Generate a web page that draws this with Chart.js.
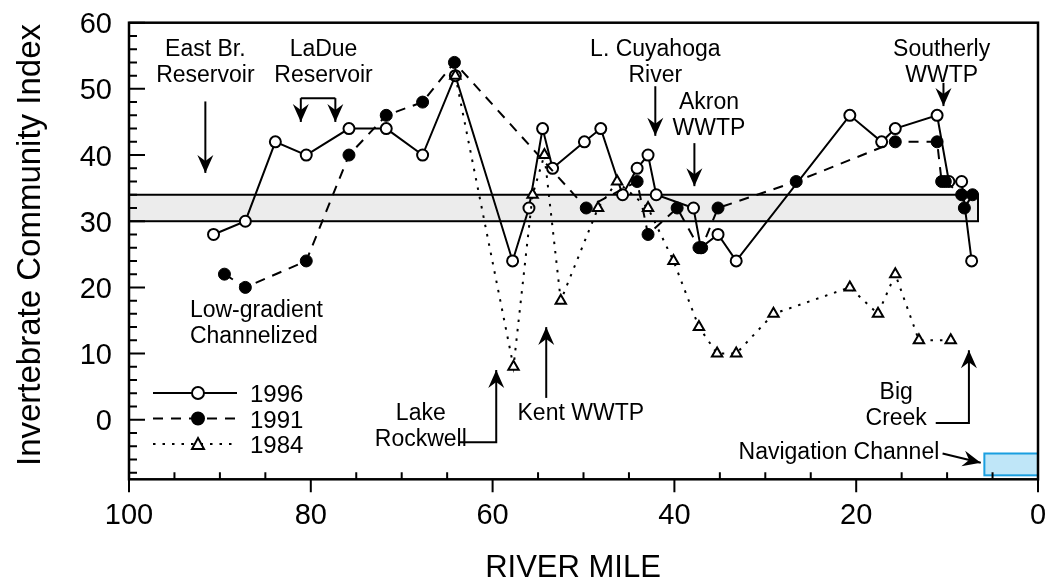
<!DOCTYPE html>
<html>
<head>
<meta charset="utf-8">
<script src="https://cdn.jsdelivr.net/npm/chart.js@4.4.0/dist/chart.umd.min.js"></script>
<style>
  html, body { margin: 0; padding: 0; background: #fff; }
  #wrap { width: 1046px; height: 581px; }
</style>
</head>
<body>
<div id="wrap"><canvas id="iciChart" width="1046" height="581"></canvas></div>
<script>
// Invertebrate Community Index along the river, three survey years
const miles1996 = [90.7, 87.2, 83.9, 80.5, 75.8, 71.7, 67.7, 64.1, 57.8, 56.0, 54.5, 53.4, 49.9, 48.1,
  45.7, 44.1, 42.9, 42.0, 37.9, 37.1, 35.2, 33.2, 20.7, 17.2, 15.7, 11.1, 9.8, 8.4, 7.3];
const ici1996 = [28, 30, 42, 40, 44, 44, 40, 52, 24, 32, 44, 38, 42, 44,
  34, 38, 40, 34, 32, 26, 28, 24, 46, 42, 44, 46, 36, 36, 24];

const miles1991 = [89.5, 87.2, 80.5, 75.8, 71.7, 67.7, 64.2, 49.7, 44.1, 42.9, 39.7, 37.3, 37.0,
  35.2, 26.6, 15.7, 11.1, 10.6, 10.2, 8.4, 8.1, 7.2];
const ici1991 = [22, 20, 24, 40, 46, 48, 54, 32, 36, 28, 32, 26, 26,
  32, 36, 42, 42, 36, 36, 34, 32, 34];

const miles1984 = [64.1, 57.7, 55.6, 54.3, 52.5, 48.4, 46.3, 42.9, 40.1, 37.3, 35.3, 33.2,
  29.1, 20.7, 17.6, 15.7, 13.1, 9.6];
const ici1984 = [52, 8, 34, 40, 18, 32, 36, 32, 24, 14, 10, 10,
  16, 20, 16, 22, 12, 12];

const xTicks = [100, 80, 60, 40, 20, 0];
const yTicks = [0, 10, 20, 30, 40, 50, 60];
const refBand = [30, 34];       // ICI criterion band
const bandEndMile = 6.6;
const navChannel = { from: 5.9, to: 0, lo: -8.4, hi: -5.1 };

const FONT = '"Liberation Sans", Arial, sans-serif';

const pairs = (xs, ys) => xs.map((m, i) => ({ x: m, y: ys[i] }));

function arrowHead(ctx, x, y, ang, len = 18, half = 8, notch = 6) {
  ctx.save();
  ctx.translate(x, y);
  ctx.rotate(ang);
  ctx.beginPath();
  ctx.moveTo(0, 0);
  ctx.lineTo(-len, -half);
  ctx.lineTo(-len + notch, 0);
  ctx.lineTo(-len, half);
  ctx.closePath();
  ctx.fill();
  ctx.restore();
}

// polyline ending in an arrow head
function arrow(ctx, pts) {
  ctx.beginPath();
  ctx.moveTo(pts[0][0], pts[0][1]);
  for (let i = 1; i < pts.length; i++) ctx.lineTo(pts[i][0], pts[i][1]);
  ctx.stroke();
  const a = pts[pts.length - 2], b = pts[pts.length - 1];
  arrowHead(ctx, b[0], b[1], Math.atan2(b[1] - a[1], b[0] - a[0]));
}

const riverPlugin = {
  id: 'riverPlugin',
  beforeDatasetsDraw(chart) {
    const { ctx, scales: { x, y } } = chart;
    ctx.save();
    // criterion band
    const bx0 = x.getPixelForValue(100), bx1 = x.getPixelForValue(bandEndMile);
    const by0 = y.getPixelForValue(refBand[1]), by1 = y.getPixelForValue(refBand[0]);
    ctx.fillStyle = '#ececec';
    ctx.fillRect(bx0, by0, bx1 - bx0, by1 - by0);
    ctx.strokeStyle = '#000';
    ctx.lineWidth = 2;
    ctx.strokeRect(bx0, by0, bx1 - bx0, by1 - by0);
    // navigation channel
    const nx0 = x.getPixelForValue(navChannel.from), nx1 = x.getPixelForValue(navChannel.to);
    const ny0 = y.getPixelForValue(navChannel.hi), ny1 = y.getPixelForValue(navChannel.lo);
    ctx.fillStyle = '#bfe6f8';
    ctx.fillRect(nx0, ny0, nx1 - nx0, ny1 - ny0);
    ctx.strokeStyle = '#1a9fe0';
    ctx.strokeRect(nx0, ny0, nx1 - nx0, ny1 - ny0);
    ctx.restore();
  },
  afterDraw(chart) {
    const { ctx, chartArea: ca, scales: { x, y } } = chart;
    const X = m => x.getPixelForValue(m), Y = v => y.getPixelForValue(v);
    ctx.save();
    ctx.strokeStyle = '#000';
    ctx.fillStyle = '#000';

    // frame
    ctx.lineWidth = 2.5;
    ctx.strokeRect(ca.left, ca.top, ca.right - ca.left, ca.bottom - ca.top);

    // ticks
    ctx.lineWidth = 2;
    ctx.beginPath();
    for (let v = -8; v <= 60; v += 2) {
      const len = v % 10 === 0 ? 16 : 8;
      ctx.moveTo(ca.left, Y(v));
      ctx.lineTo(ca.left + len, Y(v));
    }
    for (let m = 0; m <= 100; m += 5) {
      if (m % 20 === 0) {
        ctx.moveTo(X(m), ca.bottom);
        ctx.lineTo(X(m), ca.bottom + 13);
      } else {
        ctx.moveTo(X(m), ca.bottom);
        ctx.lineTo(X(m), ca.bottom - 7);
      }
    }
    ctx.stroke();

    // tick labels
    ctx.font = '29px ' + FONT;
    ctx.textAlign = 'right';
    ctx.textBaseline = 'alphabetic';
    yTicks.forEach(v => ctx.fillText(String(v), ca.left - 17, Y(v) + 10.5));
    ctx.textAlign = 'center';
    xTicks.forEach(m => ctx.fillText(String(m), X(m), ca.bottom + 45));

    // axis titles
    ctx.font = '31px ' + FONT;
    ctx.fillText('RIVER MILE', 573, 577);
    ctx.save();
    ctx.translate(40, 245);
    ctx.rotate(-Math.PI / 2);
    ctx.font = '33px ' + FONT;
    ctx.fillText('Invertebrate Community Index', 0, 0);
    ctx.restore();

    // site labels
    ctx.font = '23px ' + FONT;
    const label = (m, v, s, align = 'center') => {
      ctx.textAlign = align;
      ctx.fillText(s, X(m), Y(v));
    };
    ctx.lineWidth = 2;

    label(91.6, 55.0, 'East Br.');
    label(91.6, 51.1, 'Reservoir');
    arrow(ctx, [[X(91.6), Y(48.1)], [X(91.6), Y(37.3)]]);

    label(78.6, 55.0, 'LaDue');
    label(78.6, 51.1, 'Reservoir');
    ctx.beginPath();
    ctx.moveTo(X(81.1), Y(48.6));
    ctx.lineTo(X(77.3), Y(48.6));
    ctx.stroke();
    arrow(ctx, [[X(81.1), Y(48.6)], [X(81.1), Y(45.0)]]);
    arrow(ctx, [[X(77.3), Y(48.6)], [X(77.3), Y(45.0)]]);

    label(42.1, 55.0, 'L. Cuyahoga');
    label(42.1, 51.1, 'River');
    arrow(ctx, [[X(42.1), Y(50.4)], [X(42.1), Y(42.9)]]);

    label(36.2, 47.0, 'Akron');
    label(36.2, 43.1, 'WWTP');
    arrow(ctx, [[X(37.8), Y(41.8)], [X(37.8), Y(35.3)]]);

    label(10.6, 55.0, 'Southerly');
    label(10.6, 51.1, 'WWTP');
    arrow(ctx, [[X(10.4), Y(50.9)], [X(10.4), Y(47.4)]]);

    label(93.3, 15.5, 'Low-gradient', 'left');
    label(93.3, 11.6, 'Channelized', 'left');

    label(67.9, 0.0, 'Lake');
    label(67.9, -4.0, 'Rockwell');
    arrow(ctx, [[X(63.6), Y(-3.4)], [X(59.6), Y(-3.4)], [X(59.6), Y(7.5)]]);

    label(50.3, -0.1, 'Kent WWTP');
    arrow(ctx, [[X(54.1), Y(3.3)], [X(54.1), Y(14.0)]]);

    label(15.6, 3.1, 'Big');
    label(15.6, -0.75, 'Creek');
    arrow(ctx, [[X(11.25), Y(-0.5)], [X(7.6), Y(-0.5)], [X(7.6), Y(10.5)]]);

    label(21.9, -6.0, 'Navigation Channel');
    arrow(ctx, [[X(10.5), Y(-5.1)], [X(6.3), Y(-6.5)]]);

    // legend
    const rows = [
      { text: '1996', dash: [], style: 'open' },
      { text: '1991', dash: [10, 8], style: 'filled' },
      { text: '1984', dash: [2.5, 7], style: 'tri' }
    ];
    ctx.font = '24px ' + FONT;
    ctx.textAlign = 'left';
    rows.forEach((r, i) => {
      const ly = 393 + i * 25.5;
      ctx.setLineDash(r.dash);
      ctx.lineWidth = 2;
      ctx.beginPath();
      ctx.moveTo(153, ly);
      ctx.lineTo(237, ly);
      ctx.stroke();
      ctx.setLineDash([]);
      ctx.beginPath();
      if (r.style === 'tri') {
        ctx.moveTo(198, ly - 6);
        ctx.lineTo(204, ly + 5);
        ctx.lineTo(192, ly + 5);
        ctx.closePath();
      } else {
        ctx.arc(198, ly, 6, 0, Math.PI * 2);
      }
      ctx.fillStyle = r.style === 'filled' ? '#000' : '#fff';
      ctx.fill();
      ctx.stroke();
      ctx.fillStyle = '#000';
      ctx.fillText(r.text, 250, ly + 9);
    });
    ctx.restore();
  }
};

new Chart(document.getElementById('iciChart'), {
  type: 'line',
  data: {
    datasets: [
      {
        label: '1984',
        data: pairs(miles1984, ici1984),
        borderColor: '#000',
        borderWidth: 2,
        borderDash: [2.5, 7],
        pointStyle: 'triangle',
        pointRadius: 6,
        pointBorderWidth: 2,
        pointBackgroundColor: '#fff',
        pointBorderColor: '#000',
        order: 0
      },
      {
        label: '1991',
        data: pairs(miles1991, ici1991),
        borderColor: '#000',
        borderWidth: 2,
        borderDash: [10, 8],
        pointStyle: 'circle',
        pointRadius: 6,
        pointBorderWidth: 1,
        pointBackgroundColor: '#000',
        pointBorderColor: '#000',
        order: 1
      },
      {
        label: '1996',
        data: pairs(miles1996, ici1996),
        borderColor: '#000',
        borderWidth: 2,
        pointStyle: 'circle',
        pointRadius: 5.5,
        pointBorderWidth: 2,
        pointBackgroundColor: '#fff',
        pointBorderColor: '#000',
        order: 2
      }
    ]
  },
  options: {
    responsive: false,
    animation: false,
    layout: { padding: { left: 129, right: 3.3, top: 22.7, bottom: 101.7 } },
    plugins: { legend: { display: false }, tooltip: { enabled: false } },
    scales: {
      x: { type: 'linear', min: 0, max: 100, reverse: true, display: false },
      y: { type: 'linear', min: -9, max: 60, display: false }
    }
  },
  plugins: [riverPlugin]
});
</script>
</body>
</html>
